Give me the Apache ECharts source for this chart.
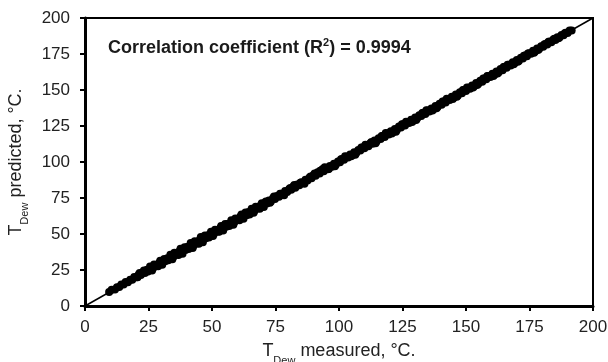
<!DOCTYPE html>
<html><head><meta charset="utf-8">
<script src="https://cdn.jsdelivr.net/npm/echarts@6/dist/echarts.min.js"></script>
<style>html,body{margin:0;padding:0;background:#fff}#c{width:608px;height:362px}</style>
</head><body><div id="c"></div>
<script>
const xTicks = [0, 25, 50, 75, 100, 125, 150, 175, 200];
const yTicks = [0, 25, 50, 75, 100, 125, 150, 175, 200];
const measured = [9.5,10.5,11.8,12.6,13.5,14.3,15.2,16.0,16.9,17.8,18.6,19.4,20.3,21.1,22.0,22.8,23.6,24.4,25.2,26.0,26.8,27.6,28.4,29.2,30.0,30.8,31.6,32.4,33.2,34.0,34.8,35.6,36.4,37.2,38.0,38.8,39.6,40.4,41.2,42.0,42.8,43.6,44.4,45.2,46.0,46.8,47.6,48.4,49.2,50.0,50.8,51.6,52.4,53.2,54.0,54.8,55.6,56.4,57.2,58.0,58.8,59.6,60.4,61.2,62.0,62.8,63.6,64.4,65.2,66.0,66.8,67.6,68.4,69.2,70.0,70.8,71.6,72.4,73.2,74.0,74.8,75.6,76.4,77.2,78.0,78.8,79.6,80.4,81.2,82.0,82.8,83.6,84.4,85.2,86.0,86.8,87.6,88.4,89.2,90.0,90.8,91.6,92.4,93.2,94.0,94.8,95.6,96.4,97.2,98.0,98.8,99.6,100.4,101.2,102.0,102.8,103.6,104.4,105.2,106.0,106.8,107.6,108.4,109.2,110.0,110.8,111.6,112.4,113.2,114.0,114.8,115.6,116.4,117.2,118.0,118.8,119.6,120.4,121.2,122.0,122.8,123.6,124.4,125.2,126.0,126.8,127.6,128.4,129.2,130.0,130.8,131.6,132.4,133.2,134.0,134.8,135.6,136.4,137.2,138.0,138.8,139.6,140.4,141.2,142.0,142.8,143.6,144.4,145.2,146.0,146.8,147.6,148.4,149.2,150.0,150.8,151.6,152.4,153.2,154.0,154.8,155.6,156.4,157.2,158.0,158.8,159.6,160.4,161.2,162.0,162.8,163.6,164.4,165.2,166.0,166.8,167.6,168.4,169.2,170.0,170.8,171.6,172.4,173.2,174.0,174.8,175.6,176.4,177.2,178.0,178.8,179.6,180.4,181.2,182.0,182.8,183.6,184.4,185.2,186.0,186.8,187.6,188.4,189.2,190.0,190.8,191.6];
const predicted = [9.8,11.2,11.5,13.1,13.2,14.9,15.0,16.6,16.5,18.3,18.2,20.1,20.0,21.7,21.6,23.5,23.0,25.2,24.8,26.7,26.3,28.2,28.0,29.9,29.5,31.5,31.0,33.1,32.6,34.8,34.2,36.3,35.7,38.0,37.3,39.6,38.9,41.2,40.5,42.8,42.0,44.5,43.6,46.0,45.3,47.9,47.0,49.2,48.5,50.8,50.1,52.5,51.8,54.0,53.4,55.7,55.0,57.2,56.6,58.9,58.2,60.4,59.8,62.1,61.4,63.6,63.0,65.2,64.6,66.9,66.3,68.6,67.9,70.0,69.5,71.6,71.1,73.2,72.6,74.8,74.3,76.4,75.9,78.0,77.5,79.8,79.2,81.2,80.7,82.9,82.2,84.4,83.9,86.0,85.5,87.6,87.1,89.2,88.7,90.9,90.4,92.8,92.0,94.2,93.6,95.8,95.0,97.2,96.7,98.8,98.3,100.4,99.9,102.0,101.5,103.6,103.1,105.2,104.7,106.8,106.3,108.4,107.9,110.0,109.5,111.8,111.0,113.2,112.7,114.9,114.2,116.5,115.9,118.0,117.4,119.8,119.1,121.3,120.6,123.0,122.2,124.6,123.9,126.2,125.4,127.8,127.0,129.3,128.6,130.9,130.3,132.4,131.9,134.2,133.4,135.8,135.0,137.2,136.6,138.9,138.2,140.5,139.8,142.1,141.3,143.6,143.0,145.3,144.6,146.9,146.2,148.4,147.8,150.0,149.3,151.6,150.9,153.2,152.6,154.8,154.1,156.4,155.7,158.0,157.4,159.7,159.0,161.3,160.6,162.9,162.1,164.5,163.8,166.1,165.4,167.6,167.0,169.2,168.7,170.8,170.2,172.4,171.9,174.0,173.5,175.6,175.1,177.2,176.7,178.8,178.4,180.4,180.0,182.0,181.6,183.6,183.2,185.1,184.8,186.7,186.5,188.2,188.0,189.7,189.6,191.3,191.4];
const measuredExtra = [20.7,23.2,24.8,27.2,28.8,31.2,32.8,35.2,36.8,39.2,40.8,43.2,44.8,47.2,48.8,51.2,52.8,55.2,56.8,59.2,60.8,63.2,64.8,67.2,68.8,71.2,72.8,76.8,80.8,84.8,88.8,92.6,93.6,96.0,100.8,104.8,108.8,112.8,116.8,120.8,124.8,128.8,132.8,136.8,140.8,144.8,148.8,152.8,156.8,160.8,164.8,168.8,172.8,176.8,180.8,184.8,188.8];
const predictedExtra = [19.9,24.6,23.9,28.9,27.6,32.6,31.7,36.9,35.4,40.8,39.6,45.0,43.2,48.9,47.6,53.0,51.5,56.9,55.6,60.8,59.5,64.9,63.6,68.9,67.5,72.6,71.7,77.9,81.9,85.6,89.9,94.0,95.1,95.2,101.9,104.0,110.1,113.9,118.1,119.8,126.3,127.8,134.0,135.8,142.0,143.8,150.0,151.8,158.0,159.8,165.9,167.9,173.8,175.9,181.6,185.6,189.3];
const measuredSpread = [21.5,25.6,26.4,29.6,30.4,33.6,34.4,37.6,38.4,41.6,42.4,45.6,46.4,49.6,50.4,53.6,54.4,57.6,58.4,61.6,62.4,65.6,66.4,69.6,70.4,74.4,78.4,82.4,86.4,90.4,94.4,98.4,102.4,106.4,110.4,114.4,118.4,122.4,126.4,130.4,134.4,138.4,142.4,146.4,150.4,154.4,158.4,162.4,166.4,170.4,174.4,178.4,182.4,186.4];
const predictedSpread = [23.0,27.4,24.6,31.5,28.6,35.6,32.4,39.8,36.2,43.8,40.3,47.9,44.3,51.6,48.6,55.6,52.5,59.5,56.5,63.6,60.6,67.5,64.7,71.4,68.8,76.1,76.9,84.1,84.9,92.1,96.3,97.0,104.0,105.0,112.0,113.1,120.1,121.0,128.0,129.2,136.0,137.3,143.9,145.3,151.8,153.4,159.7,161.5,167.6,169.6,175.4,177.7,183.3,185.9];
const identityLine = [[0, 0], [200, 200]];

const points = measured.map((m, i) => [m, predicted[i]])
  .concat(measuredExtra.map((m, i) => [m, predictedExtra[i]]))
  .concat(measuredSpread.map((m, i) => [m, predictedSpread[i]]));
const font = '"Liberation Sans", Arial, Helvetica, sans-serif';
const txt = '#222';
const chart = echarts.init(document.getElementById('c'), null, {renderer: 'canvas'});
chart.setOption({
  animation: false,
  backgroundColor: '#fff',
  title: {
    text: '{a|Correlation coefficient (R}{s|2}{a|) = 0.9994}',
    left: 103, top: 32,
    textStyle: {
      rich: {
        a: {fontFamily: font, fontWeight: 'bold', fontSize: 18, color: '#1a1a1a', lineHeight: 23, verticalAlign: 'middle'},
        s: {fontFamily: font, fontWeight: 'bold', fontSize: 11, color: '#1a1a1a', lineHeight: 11, verticalAlign: 'top'}
      }
    }
  },
  grid: {left: 85, right: 15, top: 18, bottom: 56, outerBoundsMode: 'none', containLabel: false,
    show: true, borderColor: '#000', borderWidth: 2, backgroundColor: 'transparent'},
  xAxis: {
    type: 'value', min: 0, max: 200, interval: 25,
    name: '{a|T}{s|Dew}{a| measured, °C.}',
    nameLocation: 'middle', nameGap: 30,
    nameTextStyle: {rich: {
      a: {fontFamily: font, fontSize: 18, color: txt, lineHeight: 30, verticalAlign: 'middle'},
      s: {fontFamily: font, fontSize: 11, color: txt, lineHeight: 10, verticalAlign: 'bottom'}
    }},
    axisLine: {show: true, onZero: false, lineStyle: {color: '#000', width: 3}},
    axisTick: {show: true, length: 5, lineStyle: {color: '#000', width: 2}},
    axisLabel: {color: txt, fontFamily: font, fontSize: 17, margin: 13,
      formatter: v => xTicks.includes(v) ? String(v) : ''},
    splitLine: {show: false}
  },
  yAxis: {
    type: 'value', min: 0, max: 200, interval: 25,
    name: '{a|T}{s|Dew}{a| predicted, °C.}',
    nameLocation: 'middle', nameGap: 50, nameRotate: 90,
    nameTextStyle: {rich: {
      a: {fontFamily: font, fontSize: 18, color: txt, lineHeight: 30, verticalAlign: 'middle'},
      s: {fontFamily: font, fontSize: 11, color: txt, lineHeight: 10, verticalAlign: 'bottom'}
    }},
    axisLine: {show: true, onZero: false, lineStyle: {color: '#000', width: 3}},
    axisTick: {show: true, length: 5, lineStyle: {color: '#000', width: 2}},
    axisLabel: {color: txt, fontFamily: font, fontSize: 17, margin: 15,
      formatter: v => yTicks.includes(v) ? String(v) : ''},
    splitLine: {show: false}
  },
  series: [
    {type: 'line', data: identityLine, symbol: 'none', lineStyle: {color: '#000', width: 1.5}, z: 1},
    {type: 'scatter', data: points, symbol: 'circle', symbolSize: 8, itemStyle: {color: '#000', opacity: 1}, z: 2}
  ]
});
</script></body></html>
